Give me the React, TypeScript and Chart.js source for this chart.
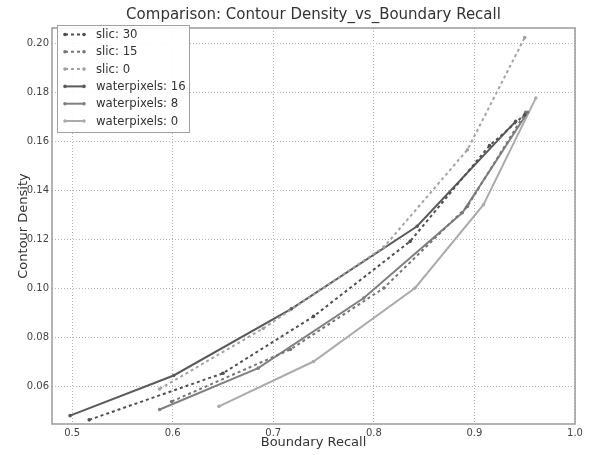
import React, { useEffect, useRef } from "react";
import { Chart, registerables } from "chart.js";

Chart.register(...registerables);

const titleText = "Comparison: Contour Density_vs_Boundary Recall";
const xTitle = "Boundary Recall";
const yTitle = "Contour Density";

const seriesLabels = ["slic: 30", "slic: 15", "slic: 0", "waterpixels: 16", "waterpixels: 8", "waterpixels: 0"];

const slic30X = [0.517, 0.65, 0.74, 0.836, 0.915, 0.95];
const slic30Y = [0.0465, 0.0655, 0.0887, 0.1193, 0.1584, 0.171];
const slic15X = [0.599, 0.717, 0.81, 0.893, 0.951];
const slic15Y = [0.054, 0.0752, 0.1003, 0.1336, 0.172];
const slic0X = [0.587, 0.69, 0.81, 0.893, 0.95];
const slic0Y = [0.0591, 0.0838, 0.117, 0.1567, 0.2025];
const wp16X = [0.498, 0.601, 0.718, 0.843, 0.941];
const wp16Y = [0.0482, 0.0646, 0.0918, 0.1255, 0.1683];
const wp8X = [0.587, 0.685, 0.79, 0.888, 0.953];
const wp8Y = [0.0507, 0.0676, 0.0962, 0.131, 0.172];
const wp0X = [0.646, 0.74, 0.841, 0.909, 0.961];
const wp0Y = [0.052, 0.0703, 0.1003, 0.1343, 0.1778];

const xTicks = [0.5, 0.6, 0.7, 0.8, 0.9, 1.0];
const yTicks = [0.06, 0.08, 0.1, 0.12, 0.14, 0.16, 0.18, 0.2];

const FONT = "'DejaVu Sans', sans-serif";

function pts(xs: number[], ys: number[]) {
  return xs.map((x, i) => ({ x, y: ys[i] }));
}

const overlayPlugin = {
  id: "overlay",
  afterDraw(chart: any) {
    const { ctx, chartArea } = chart;
    const { left, right, top, bottom } = chartArea;
    ctx.save();
    // frame
    ctx.strokeStyle = "#9a9a9a";
    ctx.lineWidth = 1.5;
    ctx.setLineDash([]);
    ctx.strokeRect(left, top, right - left, bottom - top);
    // title
    ctx.fillStyle = "#333";
    ctx.font = `15px ${FONT}`;
    ctx.textAlign = "center";
    ctx.textBaseline = "alphabetic";
    ctx.fillText(titleText, (left + right) / 2, 19);
    // x title
    ctx.font = `13px ${FONT}`;
    ctx.fillText(xTitle, (left + right) / 2, 446);
    // y title
    ctx.save();
    ctx.translate(27, (top + bottom) / 2);
    ctx.rotate(-Math.PI / 2);
    ctx.fillText(yTitle, 0, 0);
    ctx.restore();
    // legend
    const lx = 57, ly = 25, lw = 132, lh = 107;
    ctx.fillStyle = "rgba(255,255,255,0.9)";
    ctx.fillRect(lx, ly, lw, lh);
    ctx.strokeStyle = "#a0a0a0";
    ctx.lineWidth = 1;
    ctx.strokeRect(lx + 0.5, ly + 0.5, lw, lh);
    ctx.font = `11.7px ${FONT}`;
    ctx.textAlign = "left";
    ctx.textBaseline = "middle";
    chart.data.datasets.forEach((ds: any, i: number) => {
      const y = 34.5 + i * 17.3;
      ctx.strokeStyle = ds.borderColor;
      ctx.lineWidth = ds.borderWidth;
      ctx.setLineDash(ds.borderDash || []);
      ctx.beginPath();
      ctx.moveTo(65, y);
      ctx.lineTo(84, y);
      ctx.stroke();
      ctx.setLineDash([]);
      ctx.fillStyle = ds.borderColor;
      [65, 84].forEach((px) => {
        ctx.beginPath();
        ctx.arc(px, y, 1.8, 0, Math.PI * 2);
        ctx.fill();
      });
      ctx.fillStyle = "#333";
      ctx.fillText(ds.label, 96, y + 0.5);
    });
    ctx.restore();
  },
};

export default function App() {
  const ref = useRef<HTMLCanvasElement | null>(null);
  useEffect(() => {
    if (!ref.current) return;
    const mk = (i: number, xs: number[], ys: number[], color: string, dashed: boolean) => ({
      label: seriesLabels[i],
      data: pts(xs, ys),
      borderColor: color,
      backgroundColor: color,
      borderWidth: 2,
      borderDash: dashed ? [3, 3] : [],
      borderCapStyle: "butt",
      pointRadius: 1.8,
      pointBorderWidth: 0,
      pointBackgroundColor: color,
      tension: 0,
      fill: false,
    });
    const chart = new Chart(ref.current, {
      type: "line",
      data: {
        datasets: [
          mk(0, slic30X, slic30Y, "#4f4f4f", true),
          mk(1, slic15X, slic15Y, "#767676", true),
          mk(2, slic0X, slic0Y, "#a2a2a2", true),
          mk(3, wp16X, wp16Y, "#5a5a5a", false),
          mk(4, wp8X, wp8Y, "#808080", false),
          mk(5, wp0X, wp0Y, "#ababab", false),
        ] as any,
      },
      options: {
        responsive: false,
        animation: false,
        events: [],
        layout: { padding: { top: 28, right: 16, left: 0, bottom: 0 } },
        plugins: {
          legend: { display: false },
          title: { display: false },
          tooltip: { enabled: false },
        },
        scales: {
          x: {
            type: "linear",
            min: 0.48,
            max: 1.0,
            afterBuildTicks: (s: any) => {
              s.ticks = xTicks.map((v) => ({ value: v }));
            },
            afterFit: (s: any) => {
              s.height = 31;
            },
            ticks: {
              padding: 3,
              color: "#444",
              font: { family: FONT, size: 10 },
              maxRotation: 0,
              autoSkip: false,
              callback: (v: any) => Number(v).toFixed(1),
            },
            grid: { color: "#b5b5b5", lineWidth: 1, drawTicks: false },
            border: { display: false, dash: [1, 2] },
          },
          y: {
            type: "linear",
            min: 0.0448,
            max: 0.2064,
            afterBuildTicks: (s: any) => {
              s.ticks = yTicks.map((v) => ({ value: v }));
            },
            afterFit: (s: any) => {
              s.width = 52;
            },
            ticks: {
              padding: 3,
              color: "#444",
              font: { family: FONT, size: 10 },
              autoSkip: false,
              callback: (v: any) => Number(v).toFixed(2),
            },
            grid: { color: "#b5b5b5", lineWidth: 1, drawTicks: false },
            border: { display: false, dash: [1, 2] },
          },
        },
      },
      plugins: [overlayPlugin],
    });
    return () => chart.destroy();
  }, []);
  return (
    <div style={{ position: "fixed", left: 0, top: 0, width: 591, height: 455, background: "#fff" }}>
      <canvas ref={ref} width={591} height={455} style={{ display: "block" }} />
    </div>
  );
}
